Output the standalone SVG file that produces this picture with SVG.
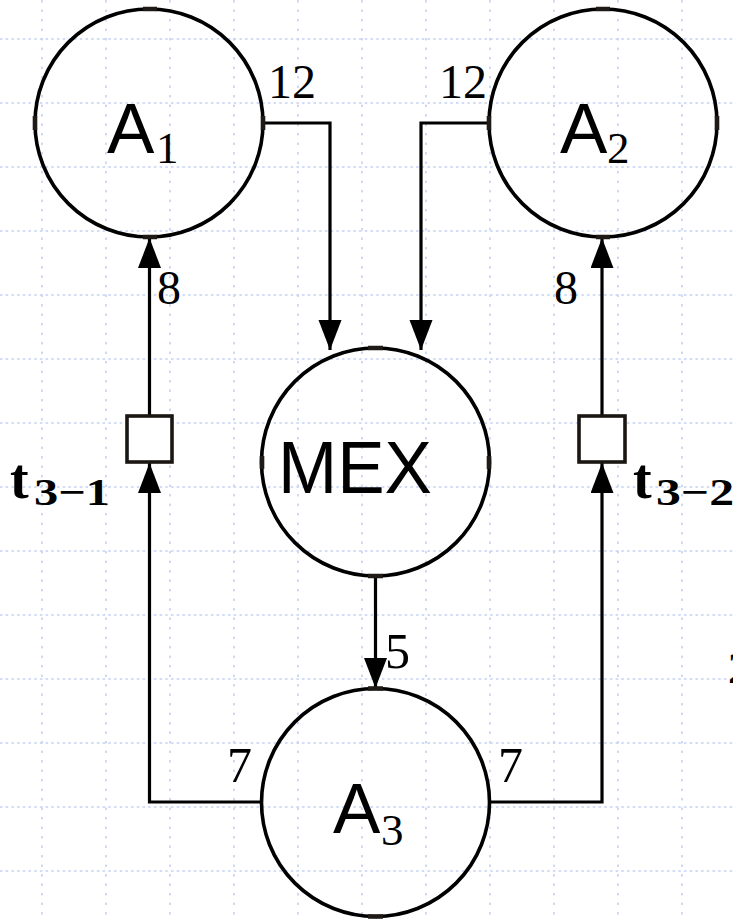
<svg xmlns="http://www.w3.org/2000/svg" width="733" height="921" viewBox="0 0 733 921">
<style>
.gh{stroke:#c3d1f3;stroke-width:1.6;stroke-dasharray:2.5 3.2;fill:none}
.gv{stroke:#c3d1f3;stroke-width:1.6;stroke-dasharray:2.5 7;fill:none}
.node{fill:none;stroke:#000;stroke-width:3.6}
.box{fill:#fff;stroke:#1a1612;stroke-width:3.6}
.tick{stroke:#1f1a16;stroke-width:4.6;fill:none}
.edge{fill:none;stroke:#000;stroke-width:3.2}
.sans{font-family:"Liberation Sans",Arial,sans-serif;fill:#000}
.ser{font-family:"Liberation Serif","Times New Roman",serif;fill:#000}
.bold{font-family:"Liberation Serif","Times New Roman",serif;font-weight:bold;fill:#000}
</style>
<defs>
<marker id="arr" markerUnits="userSpaceOnUse" markerWidth="32" markerHeight="24" refX="30" refY="11.5" orient="auto">
<path d="M0,0 L30,11.5 L0,23 Z" fill="#000"/>
</marker>
</defs>
<rect width="733" height="921" fill="#fff"/>
<g id="grid">
<path class="gh" d="M0,39H733M0,103H733M0,167H733M0,231H733M0,295H733M0,359H733M0,423H733M0,487H733M0,551H733M0,615H733M0,679H733M0,743H733M0,807H733M0,871H733"/>
<path class="gv" d="M42,0V921M106,0V921M170,0V921M234,0V921M298,0V921M362,0V921M426,0V921M490,0V921M554,0V921M618,0V921M682,0V921"/>
</g>
<g id="connectors">
<path class="edge" d="M263,123H330V350" marker-end="url(#arr)"/>
<path class="edge" d="M489,123H421V350" marker-end="url(#arr)"/>
<path class="edge" d="M149.5,416V238" marker-end="url(#arr)"/>
<path class="edge" d="M262,802H149.5V463" marker-end="url(#arr)"/>
<path class="edge" d="M602,416V238" marker-end="url(#arr)"/>
<path class="edge" d="M489,802H602V463" marker-end="url(#arr)"/>
<path class="edge" d="M375.5,576V688" marker-end="url(#arr)"/>
</g>
<g id="A1">
<circle class="node" cx="149" cy="123" r="114"/>
<path class="tick" d="M143,9H157M35,116V130M143,237H157M263,116V130"/>
<text class="sans" x="107" y="153" font-size="71">A</text>
<text class="ser" x="156" y="163" font-size="45">1</text>
</g>
<g id="A2">
<circle class="node" cx="603" cy="123" r="114"/>
<path class="tick" d="M596,9H610M489,116V130M596,237H610M717,116V130"/>
<text class="sans" x="560" y="153" font-size="71">A</text>
<text class="ser" x="607" y="163" font-size="45">2</text>
</g>
<g id="MEX">
<circle class="node" cx="375.5" cy="462" r="114"/>
<path class="tick" d="M368,348H383M262,456V469M489,456V469M368,576H383"/>
<text class="sans" x="278" y="493" font-size="74" textLength="154" lengthAdjust="spacingAndGlyphs">MEX</text>
</g>
<g id="A3">
<circle class="node" cx="375.5" cy="802.5" r="114"/>
<path class="tick" d="M368,688.5H383M368,916.5H383"/>
<text class="sans" x="333" y="833" font-size="71">A</text>
<text class="ser" x="381" y="845" font-size="45">3</text>
</g>
<g id="t31">
<rect class="box" x="127" y="416" width="45" height="46"/>
<text class="bold" x="10" y="498" font-size="56">t</text>
<text class="bold" x="34" y="505" font-size="38" textLength="76" lengthAdjust="spacingAndGlyphs">3−1</text>
</g>
<g id="t32">
<rect class="box" x="579" y="416" width="46" height="46"/>
<text class="bold" x="633" y="498" font-size="56">t</text>
<text class="bold" x="656" y="505" font-size="38" textLength="78" lengthAdjust="spacingAndGlyphs">3−2</text>
</g>
<g id="labels">
<text class="ser" x="268" y="98" font-size="48">12</text>
<text class="ser" x="439" y="98" font-size="48">12</text>
<text class="ser" x="157" y="304" font-size="48">8</text>
<text class="ser" x="554" y="304" font-size="48">8</text>
<text class="ser" x="385" y="668" font-size="50">5</text>
<text class="ser" x="227" y="782" font-size="50">7</text>
<text class="ser" x="498" y="782" font-size="50">7</text>
<text class="ser" x="728" y="683" font-size="44">2</text>
</g>
</svg>
